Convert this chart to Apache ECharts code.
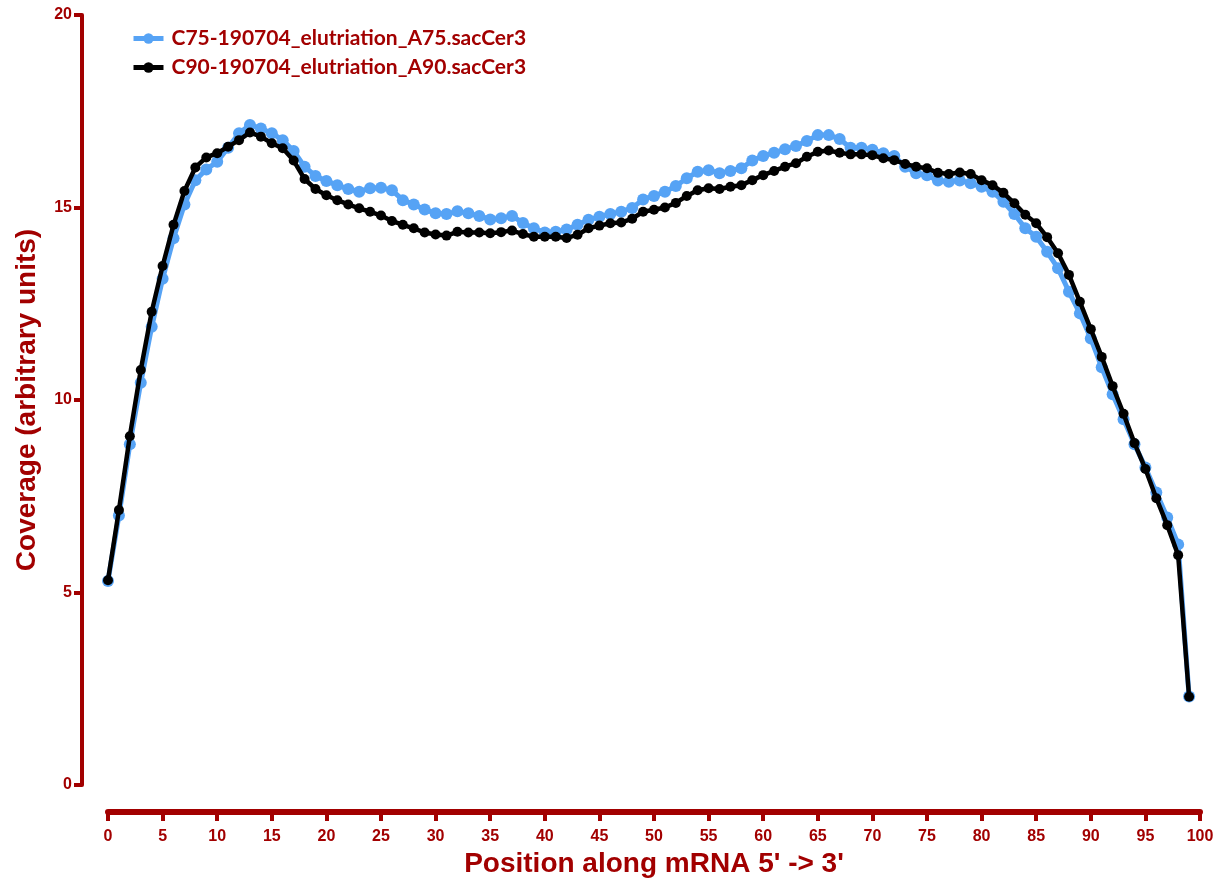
<!DOCTYPE html>
<html>
<head>
<meta charset="utf-8">
<script src="https://cdn.jsdelivr.net/npm/echarts@6/dist/echarts.min.js"></script>
<style>html,body{margin:0;padding:0;background:#fff}#c{width:1222px;height:886px}</style>
</head>
<body>
<div id="c"></div>
<script>
const seriesNames = ['C75-190704_elutriation_A75.sacCer3', 'C90-190704_elutriation_A90.sacCer3'];
const xTicks = [0,5,10,15,20,25,30,35,40,45,50,55,60,65,70,75,80,85,90,95,100];
const yTicks = [0,5,10,15,20];
// coverage by position (0..99)
const c75 = [
  5.30, 7.00, 8.85, 10.45, 11.90, 13.15, 14.20, 15.08, 15.71, 15.99,
  16.19, 16.55, 16.93, 17.14, 17.05, 16.93, 16.75, 16.47, 16.06, 15.82,
  15.69, 15.58, 15.48, 15.41, 15.50, 15.51, 15.45, 15.19, 15.08, 14.95,
  14.85, 14.83, 14.90, 14.85, 14.78, 14.69, 14.72, 14.78, 14.60, 14.46,
  14.35, 14.37, 14.43, 14.55, 14.68, 14.76, 14.83, 14.89, 14.99, 15.21,
  15.30, 15.41, 15.56, 15.76, 15.93, 15.97, 15.89, 15.95, 16.02, 16.22,
  16.34, 16.42, 16.51, 16.60, 16.73, 16.88, 16.88, 16.78, 16.55, 16.55,
  16.50, 16.41, 16.34, 16.06, 15.89, 15.84, 15.70, 15.67, 15.70, 15.63,
  15.54, 15.41, 15.15, 14.83, 14.46, 14.24, 13.85, 13.42, 12.81, 12.25,
  11.60, 10.85, 10.15, 9.50, 8.85, 8.25, 7.60, 6.95, 6.25, 2.30
];
const c90 = [
  5.32, 7.14, 9.06, 10.78, 12.29, 13.48, 14.55, 15.43, 16.04, 16.30,
  16.41, 16.58, 16.75, 16.95, 16.84, 16.67, 16.54, 16.22, 15.74, 15.48,
  15.32, 15.19, 15.08, 14.98, 14.89, 14.79, 14.65, 14.55, 14.46, 14.35,
  14.30, 14.27, 14.37, 14.35, 14.35, 14.33, 14.36, 14.40, 14.31, 14.24,
  14.24, 14.24, 14.21, 14.29, 14.46, 14.53, 14.59, 14.61, 14.71, 14.89,
  14.94, 15.00, 15.12, 15.30, 15.45, 15.50, 15.48, 15.54, 15.58, 15.71,
  15.84, 15.95, 16.06, 16.15, 16.32, 16.45, 16.48, 16.42, 16.38, 16.38,
  16.36, 16.28, 16.23, 16.13, 16.06, 16.02, 15.90, 15.87, 15.91, 15.87,
  15.71, 15.58, 15.38, 15.11, 14.81, 14.59, 14.23, 13.81, 13.25, 12.55,
  11.84, 11.12, 10.36, 9.64, 8.88, 8.21, 7.45, 6.75, 5.97, 2.29
];

const RED = '#a20000';
const BLUE = '#56a3f5';
const chart = echarts.init(document.getElementById('c'), null, {renderer: 'canvas'});
chart.setOption({
  animation: false,
  backgroundColor: '#fff',
  grid: {left: 108, right: 22, top: 15, bottom: 101, containLabel: false},
  legend: {
    orient: 'vertical', left: 126, top: 23, itemGap: 8,
    itemWidth: 30, itemHeight: 13,
    lineStyle: {width: 5},
    textStyle: {color: RED, fontSize: 21, fontWeight: 'bold', fontFamily: 'Lato', padding: [0, 0, 0, 3]},
    data: seriesNames
  },
  xAxis: {
    type: 'value', min: xTicks[0], max: xTicks[xTicks.length-1], interval: 5,
    offset: 27,
    name: "Position along mRNA 5' -> 3'", nameLocation: 'middle', nameGap: 37,
    nameTextStyle: {color: RED, fontSize: 28, fontWeight: 'bold', fontFamily: 'Liberation Sans'},
    axisLine: {show: true, onZero: false, lineStyle: {color: RED, width: 6}},
    axisTick: {show: true, length: 9, lineStyle: {color: RED, width: 4}},
    axisLabel: {color: RED, fontSize: 16, fontWeight: 'bold', fontFamily: 'Liberation Sans', margin: 17},
    splitLine: {show: false}
  },
  yAxis: {
    type: 'value', min: yTicks[0], max: yTicks[yTicks.length-1], interval: 5,
    offset: 26,
    name: 'Coverage (arbitrary units)', nameLocation: 'middle', nameGap: 41,
    nameTextStyle: {color: RED, fontSize: 28, fontWeight: 'bold', fontFamily: 'Liberation Sans'},
    axisLine: {show: true, onZero: false, lineStyle: {color: RED, width: 4}},
    axisTick: {show: true, length: 8, lineStyle: {color: RED, width: 4}},
    axisLabel: {color: RED, fontSize: 16, fontWeight: 'bold', fontFamily: 'Liberation Sans', margin: 10},
    splitLine: {show: false}
  },
  series: [
    {
      name: seriesNames[0], type: 'line',
      data: c75.map((v, i) => [i, v]),
      symbol: 'circle', symbolSize: 12,
      itemStyle: {color: BLUE},
      lineStyle: {color: BLUE, width: 5},
      z: 2
    },
    {
      name: seriesNames[1], type: 'line',
      data: c90.map((v, i) => [i, v]),
      symbol: 'circle', symbolSize: 10,
      itemStyle: {color: '#000'},
      lineStyle: {color: '#000', width: 4.5},
      z: 3
    }
  ]
});
</script>
</body>
</html>
